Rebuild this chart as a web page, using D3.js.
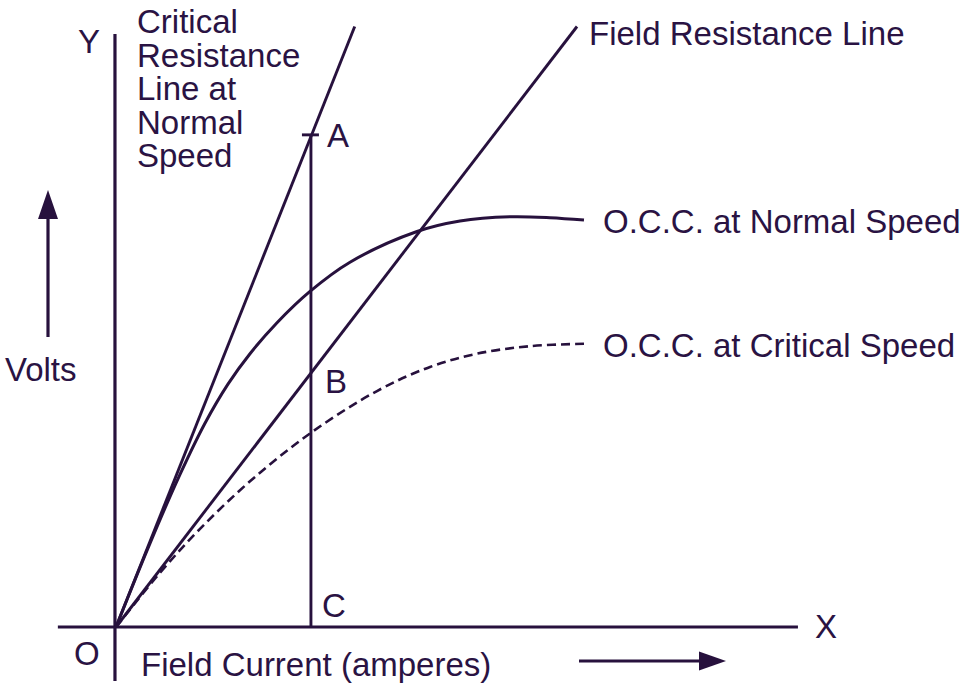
<!DOCTYPE html>
<html><head><meta charset="utf-8">
<script src="https://cdn.jsdelivr.net/npm/d3@7"></script>
<style>body{margin:0;background:#fff}svg{display:block}text{font-family:"Liberation Sans",Arial,sans-serif;fill:#2a1343}</style>
</head><body><svg id="c" width="972" height="693"></svg>
<script>
// Field current (A) vs volts (arbitrary units)
const occNormalI = [0, 0.497, 0.936, 1.301, 1.637, 1.959, 2.354, 2.836, 3.421, 4.401, 5.029, 5.760, 6.345, 6.842];
const occNormalV = [0, 27.8, 50.7, 67.7, 80.7, 90.8, 101.1, 111.5, 121.2, 131.4, 134.9, 136.3, 136.0, 135.2];
const occCriticalI = [0, 0.643, 1.228, 1.959, 2.836, 3.816, 4.591, 5.278, 6.053, 6.857];
const occCriticalV = [0, 18.0, 32.6, 48.4, 64.3, 78.4, 86.4, 90.8, 93.3, 94.1];
const criticalLineI = [0, 3.49];
const criticalLineV = [0, 199.5];
const fieldLineI = [0, 6.74];
const fieldLineV = [0, 199.5];
const pointI = 2.85;           // vertical line A-B-C
const pointAV = 163.5;
const pointBV = 84.4;
const labels = {
  critical: ["Critical", "Resistance", "Line at", "Normal", "Speed"],
  field: "Field Resistance Line",
  normal: "O.C.C. at Normal Speed",
  crit: "O.C.C. at Critical Speed",
  xTitle: "Field Current (amperes)",
  yTitle: "Volts"
};

const col = "#27113d";
const svg = d3.select("#c");
const x = d3.scaleLinear().domain([0, 10]).range([116, 800]);
const y = d3.scaleLinear().domain([0, 200]).range([627, 25]);
const line = d3.line().x(d => x(d[0])).y(d => y(d[1]));
const curve = d3.line().x(d => x(d[0])).y(d => y(d[1])).curve(d3.curveCatmullRom.alpha(0.5));
const zip = (a, b) => a.map((v, i) => [v, b[i]]);

// axes
svg.append("line").attr("x1", x(-0.015)).attr("x2", x(-0.015)).attr("y1", y(197)).attr("y2", y(-17.9))
  .attr("stroke", col).attr("stroke-width", 3.2);
svg.append("line").attr("x1", x(-0.85)).attr("x2", x(9.97)).attr("y1", y(0)).attr("y2", y(0))
  .attr("stroke", col).attr("stroke-width", 3.2);

// lines
svg.append("path").datum(zip(criticalLineI, criticalLineV)).attr("d", line).attr("fill", "none").attr("stroke", col).attr("stroke-width", 2.9);
svg.append("path").datum(zip(fieldLineI, fieldLineV)).attr("d", line).attr("fill", "none").attr("stroke", col).attr("stroke-width", 2.9);
svg.append("path").datum(zip(occNormalI, occNormalV)).attr("d", curve).attr("fill", "none").attr("stroke", col).attr("stroke-width", 3);
svg.append("path").datum(zip(occCriticalI, occCriticalV)).attr("d", curve).attr("fill", "none").attr("stroke", col).attr("stroke-width", 2.6).attr("stroke-dasharray", "9,5");

// vertical A-C
svg.append("line").attr("x1", x(pointI)).attr("x2", x(pointI)).attr("y1", y(0)).attr("y2", y(pointAV))
  .attr("stroke", col).attr("stroke-width", 2.9);
svg.append("line").attr("x1", x(pointI) - 9).attr("x2", x(pointI) + 8).attr("y1", y(pointAV)).attr("y2", y(pointAV))
  .attr("stroke", col).attr("stroke-width", 2.9);

// text
const fs = 33;
function t(txt, xx, yy, size) {
  return svg.append("text").attr("x", xx).attr("y", yy).attr("font-size", size || fs).text(txt);
}
labels.critical.forEach((s, i) => t(s, 137, 33 + i * 33.5));
t(labels.field, 589, 45);
t(labels.normal, 603, 233);
t(labels.crit, 603, 357);
t(labels.xTitle, 141, 676);
t(labels.yTitle, 5, 381);
t("Y", 78, 53);
t("X", 815, 638);
t("O", 74, 665);
t("A", x(pointI) + 16, y(pointAV) + 12);
t("B", x(pointI) + 14, y(pointBV) + 20);
t("C", x(pointI) + 11, y(0) - 10);

// arrows
svg.append("line").attr("x1", 48).attr("x2", 48).attr("y1", 337).attr("y2", 214).attr("stroke", col).attr("stroke-width", 3.2);
svg.append("path").attr("d", "M48,190 L58,219 L38,219 Z").attr("fill", col);
svg.append("line").attr("x1", 579).attr("x2", 702).attr("y1", 661).attr("y2", 661).attr("stroke", col).attr("stroke-width", 3.2);
svg.append("path").attr("d", "M726,661 L699,651.5 L699,670.5 Z").attr("fill", col);
</script></body></html>
